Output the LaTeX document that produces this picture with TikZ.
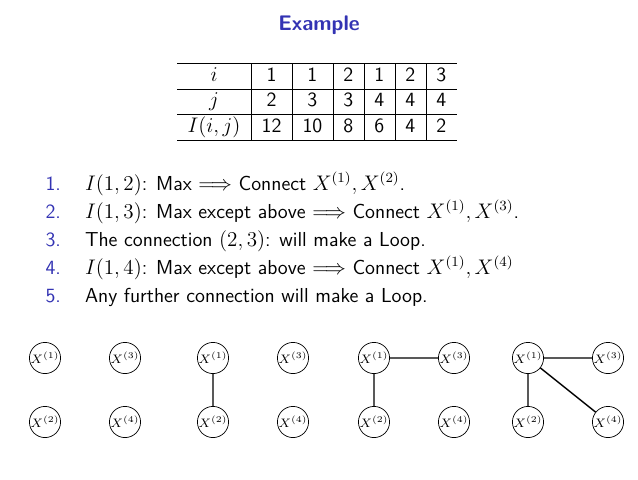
\documentclass[tikz,border=0pt]{standalone}
\usepackage{amsmath}
\definecolor{titleblue}{RGB}{51,51,179}
\tikzset{vx/.style={circle,draw,minimum size=15.5pt,inner sep=0pt,font=\scriptsize},
  item/.style={anchor=base west,font=\sffamily},
  num/.style={anchor=base east,font=\sffamily,text=titleblue}}
\begin{document}
\begin{tikzpicture}[x=0.5688pt,y=-0.5688pt]
\useasboundingbox (0,0) rectangle (638,479);
\fontsize{11.5}{13.5}\selectfont
\node[font=\sffamily\bfseries\large,text=titleblue] (title) at (319,25) {Example};
\node[font=\sffamily] (tab) at (317,102) {\renewcommand{\arraystretch}{1.05}%
\begin{tabular}{c|c|c|c|c|c|c}
\hline
$i$ & 1 & 1 & 2 & 1 & 2 & 3\\ \hline
$j$ & 2 & 3 & 3 & 4 & 4 & 4\\ \hline
$I(i,j)$ & 12 & 10 & 8 & 6 & 4 & 2\\ \hline
\end{tabular}};
\node[num] (n1) at (68,190) {1.};
\node[item] (t1) at (78,190) {$I(1,2)$: Max $\Longrightarrow$ Connect $X^{(1)},X^{(2)}$.};
\node[num] (n2) at (68,218) {2.};
\node[item] (t2) at (78,218) {$I(1,3)$: Max except above $\Longrightarrow$ Connect $X^{(1)},X^{(3)}$.};
\node[num] (n3) at (68,246) {3.};
\node[item] (t3) at (78,246) {The connection $(2,3)$: will make a Loop.};
\node[num] (n4) at (68,274) {4.};
\node[item] (t4) at (78,274) {$I(1,4)$: Max except above $\Longrightarrow$ Connect $X^{(1)},X^{(4)}$};
\node[num] (n5) at (68,302) {5.};
\node[item] (t5) at (78,302) {Any further connection will make a Loop.};
\foreach \g/\x in {a/63,b/231,c/392,d/546}{
  \node[vx] (\g1) at (\x-18,358) {$X^{(1)}$};
  \node[vx] (\g3) at (\x+62,358) {$X^{(3)}$};
  \node[vx] (\g2) at (\x-18,422) {$X^{(2)}$};
  \node[vx] (\g4) at (\x+62,422) {$X^{(4)}$};
}
\draw[thick] (b1)--(b2) (c1)--(c2) (c1)--(c3) (d1)--(d2) (d1)--(d3) (d1)--(d4);
\end{tikzpicture}
\end{document}
